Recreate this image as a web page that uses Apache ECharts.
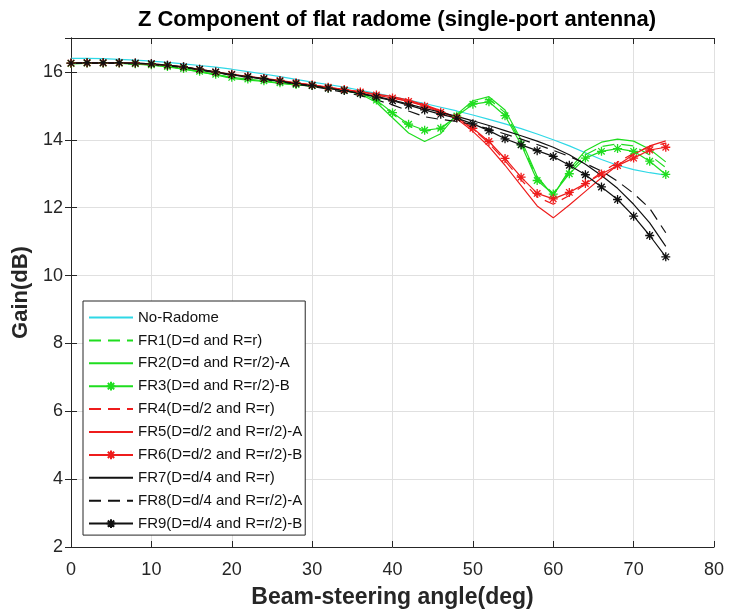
<!DOCTYPE html>
<html>
<head>
<meta charset="utf-8">
<script src="https://cdn.jsdelivr.net/npm/echarts@6/dist/echarts.min.js"></script>
<style>
  html, body { margin: 0; padding: 0; background: #fff; }
  #chart { width: 730px; height: 614px; }
</style>
</head>
<body>
<div id="chart"></div>
<script>
// beam-steering angle (deg), one point every 2 deg
const angles = [0, 2, 4, 6, 8, 10, 12, 14, 16, 18, 20, 22, 24, 26, 28, 30, 32, 34, 36, 38,
                40, 42, 44, 46, 48, 50, 52, 54, 56, 58, 60, 62, 64, 66, 68, 70, 72, 74];

const xTicks = [0, 10, 20, 30, 40, 50, 60, 70, 80];
const yTicks = [2, 4, 6, 8, 10, 12, 14, 16];

// gain (dB)
const noRadome = [16.40,16.40,16.39,16.37,16.35,16.32,16.28,16.24,16.19,16.14,16.08,16.01,15.94,15.86,15.78,15.70,15.63,15.55,15.46,15.37,
                  15.27,15.17,15.07,14.96,14.85,14.73,14.60,14.47,14.33,14.17,14.00,13.82,13.62,13.42,13.25,13.12,13.03,12.96];
const fr1 = [16.25,16.26,16.26,16.26,16.24,16.21,16.16,16.09,16.01,15.92,15.83,15.78,15.73,15.67,15.63,15.59,15.53,15.46,15.36,15.14,
             14.76,14.40,14.25,14.32,14.72,15.10,15.20,14.80,13.92,12.86,12.42,13.06,13.56,13.80,13.88,13.82,13.55,13.18];
const fr2 = [16.24,16.25,16.25,16.25,16.23,16.20,16.15,16.08,16.00,15.91,15.81,15.76,15.72,15.66,15.62,15.58,15.52,15.45,15.35,15.10,
             14.65,14.20,13.95,14.18,14.75,15.15,15.27,14.88,14.00,12.92,12.35,13.12,13.68,13.93,14.02,13.96,13.72,13.35];
const fr3 = [16.25,16.26,16.26,16.26,16.24,16.21,16.16,16.10,16.02,15.93,15.84,15.79,15.74,15.68,15.63,15.60,15.53,15.46,15.37,15.17,
             14.80,14.46,14.28,14.34,14.70,15.05,15.12,14.71,13.86,12.80,12.40,13.00,13.46,13.66,13.74,13.66,13.37,12.98];
const fr4 = [16.25,16.26,16.26,16.26,16.25,16.23,16.19,16.14,16.07,15.99,15.92,15.86,15.80,15.74,15.67,15.61,15.54,15.47,15.40,15.32,
             15.24,15.14,15.01,14.84,14.65,14.32,13.90,13.38,12.82,12.32,12.10,12.36,12.70,13.04,13.34,13.60,13.80,13.90];
const fr5 = [16.25,16.26,16.26,16.26,16.25,16.23,16.19,16.14,16.07,15.99,15.92,15.86,15.80,15.74,15.67,15.61,15.54,15.48,15.42,15.35,
             15.27,15.17,15.03,14.86,14.62,14.25,13.80,13.25,12.65,12.05,11.70,12.08,12.48,12.88,13.25,13.57,13.82,13.97];
const fr6 = [16.26,16.27,16.27,16.27,16.26,16.24,16.20,16.15,16.08,16.00,15.93,15.87,15.81,15.75,15.68,15.62,15.55,15.48,15.41,15.32,
             15.23,15.13,14.99,14.81,14.66,14.34,13.95,13.45,12.90,12.42,12.26,12.45,12.71,12.99,13.24,13.46,13.70,13.78];
const fr7 = [16.25,16.26,16.26,16.26,16.25,16.23,16.19,16.14,16.07,15.99,15.91,15.85,15.79,15.72,15.65,15.59,15.52,15.45,15.37,15.28,
             15.17,15.05,14.93,14.81,14.69,14.56,14.42,14.27,14.12,13.96,13.78,13.56,13.28,12.95,12.57,12.10,11.55,10.86];
const fr8 = [16.25,16.26,16.26,16.25,16.24,16.22,16.18,16.13,16.06,15.98,15.90,15.84,15.78,15.71,15.64,15.57,15.49,15.40,15.30,15.18,
             15.03,14.85,14.68,14.60,14.54,14.45,14.32,14.17,14.02,13.86,13.69,13.51,13.30,13.08,12.78,12.42,11.98,11.26];
const fr9 = [16.26,16.27,16.27,16.27,16.26,16.24,16.20,16.15,16.08,16.00,15.92,15.86,15.80,15.73,15.66,15.60,15.52,15.45,15.36,15.26,
             15.15,15.02,14.88,14.75,14.64,14.47,14.27,14.03,13.85,13.68,13.51,13.25,12.97,12.61,12.24,11.75,11.18,10.55];

const names = ['No-Radome', 'FR1(D=d and R=r)', 'FR2(D=d and R=r/2)-A', 'FR3(D=d and R=r/2)-B',
               'FR4(D=d/2 and R=r)', 'FR5(D=d/2 and R=r/2)-A', 'FR6(D=d/2 and R=r/2)-B',
               'FR7(D=d/4 and R=r)', 'FR8(D=d/4 and R=r/2)-A', 'FR9(D=d/4 and R=r/2)-B'];
const kinds = ['solid', 'dash', 'solid', 'star', 'dash', 'solid', 'star', 'solid', 'dash', 'star'];

const CYAN = '#2fd8e6', GREEN = '#1fdd1f', RED = '#ee1c1c', BLACK = '#111111';
const FONT = '"Liberation Sans", Arial, Helvetica, sans-serif';
const ASTERISK = 'path://M0,-5V5M-5,0H5M-3.6,-3.6L3.6,3.6M-3.6,3.6L3.6,-3.6';

function makeSeries(name, values, color, kind) {
    const s = {
        name: name,
        type: 'line',
        xAxisIndex: 0,
        yAxisIndex: 0,
        data: angles.map((a, i) => [a, values[i]]),
        color: color,
        lineStyle: { color: color, width: 1.2, type: kind === 'dash' ? [12, 7] : 'solid' },
        symbol: 'none',
        animation: false
    };
    if (kind === 'star') {
        s.symbol = ASTERISK;
        s.symbolSize = 9;
        s.showSymbol = true;
        s.itemStyle = { color: color, borderColor: color, borderWidth: 1.3 };
    }
    return s;
}

// legend entries: hide the marker for plain lines
const legendData = names.map((n, i) => kinds[i] === 'star'
    ? { name: n }
    : { name: n, itemStyle: { opacity: 0 } });

const chart = echarts.init(document.getElementById('chart'));

const axisCommon = {
    axisLine: { show: true, lineStyle: { color: '#262626', width: 1 } },
    axisTick: { show: true, inside: true, length: 6, lineStyle: { color: '#262626' } }
};

const option = {
    backgroundColor: '#fff',
    title: {
        text: 'Z Component of flat radome (single-port antenna)',
        left: 392, top: 4, textAlign: 'center',
        textStyle: { fontFamily: FONT, fontSize: 22, fontWeight: 'bold', color: '#000' }
    },
    grid: { left: 71, right: 16, top: 38, bottom: 66, containLabel: false },
    legend: {
        orient: 'vertical',
        left: 83, top: 301,
        data: legendData,
        itemWidth: 44, itemHeight: 11, itemGap: 7.9,
        padding: [9, 3, 4, 5],
        backgroundColor: '#fff',
        borderColor: '#262626', borderWidth: 1, borderRadius: 0,
        textStyle: { fontFamily: FONT, fontSize: 15, color: '#111' }
    },
    xAxis: [
        Object.assign({
            type: 'value', min: 0, max: 80, interval: 10,
            name: 'Beam-steering angle(deg)', nameLocation: 'middle', nameGap: 39,
            nameTextStyle: { fontFamily: FONT, fontSize: 23, fontWeight: 'bold', color: '#262626' },
            axisLabel: { fontFamily: FONT, fontSize: 18, color: '#262626', margin: 14,
                         formatter: v => (xTicks.indexOf(v) >= 0 ? String(v) : '') },
            splitLine: { show: true, lineStyle: { color: '#e0e0e0', width: 1 } }
        }, axisCommon),
        Object.assign({
            type: 'value', min: 0, max: 80, interval: 10, position: 'top',
            axisLabel: { show: false }, splitLine: { show: false }
        }, axisCommon)
    ],
    yAxis: [
        Object.assign({
            type: 'value', min: 2, max: 17, interval: 2,
            name: 'Gain(dB)', nameLocation: 'middle', nameGap: 35,
            nameTextStyle: { fontFamily: FONT, fontSize: 22, fontWeight: 'bold', color: '#262626' },
            axisLabel: { fontFamily: FONT, fontSize: 18, color: '#262626', margin: 8, showMaxLabel: false,
                         formatter: v => (yTicks.indexOf(v) >= 0 ? String(v) : '') },
            splitLine: { show: true, lineStyle: { color: '#e0e0e0', width: 1 } }
        }, axisCommon),
        Object.assign({
            type: 'value', min: 2, max: 17, interval: 2, position: 'right',
            axisLabel: { show: false }, splitLine: { show: false }
        }, axisCommon)
    ],
    series: [
        makeSeries(names[0], noRadome, CYAN, kinds[0]),
        makeSeries(names[1], fr1, GREEN, kinds[1]),
        makeSeries(names[2], fr2, GREEN, kinds[2]),
        makeSeries(names[3], fr3, GREEN, kinds[3]),
        makeSeries(names[4], fr4, RED, kinds[4]),
        makeSeries(names[5], fr5, RED, kinds[5]),
        makeSeries(names[6], fr6, RED, kinds[6]),
        makeSeries(names[7], fr7, BLACK, kinds[7]),
        makeSeries(names[8], fr8, BLACK, kinds[8]),
        makeSeries(names[9], fr9, BLACK, kinds[9])
    ]
};

chart.setOption(option);

window.addEventListener('resize', function () {
    chart.resize();
});
</script>
</body>
</html>
